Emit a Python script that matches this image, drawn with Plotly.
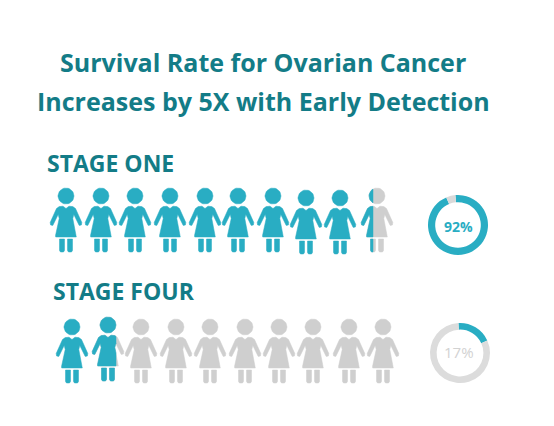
import numpy as np
import plotly.graph_objects as go

W, H = 554, 426
TEAL = "#29adc3"
GREY = "#cfcfcf"
DARK = "#137c87"

title_lines = ["Survival Rate for Ovarian Cancer", "Increases by 5X with Early Detection"]
stage_labels = ["STAGE ONE", "STAGE FOUR"]
pct_labels = ["92%", "17%"]

# people: all teal, all grey, and the two that are only partly teal
teal_x = [66, 101, 135, 170, 205, 238, 273, 306, 340, 72]
teal_y = [196, 196, 196, 196, 196, 196, 196, 198, 198, 327]
grey_x = [141, 176, 210, 245, 279, 313, 349, 383]
grey_y = [327, 327, 327, 327, 327, 327, 327, 327]
part_x = [377, 108]
part_y = [196, 325]
part_split = [373, 116]

# ring arcs as drawn, percent of the circle
one_arc = [95, 5]
four_arc = [19, 81]


def person(cx, cy):
    t = np.linspace(0, 2 * np.pi, 40)
    head = np.c_[8 * np.cos(t), 8 * np.sin(t)]
    right = [(0, 12.5), (3, 10.2), (6.8, 10.6), (9.5, 12.5), (15.8, 26.5), (15.4, 29), (13.2, 29.4),
             (7.8, 18.5), (6.8, 22.5), (10.5, 39.5), (10.3, 41)]
    body = np.array(right + [(-x, y) for x, y in reversed(right[1:])])
    leg_l = np.array([(-6.5, 43), (-1.5, 43), (-1.5, 54.5), (-2.5, 56), (-5.5, 56), (-6.5, 54.5)])
    leg_r = leg_l * [-1, 1]
    return [p + [cx, cy] for p in (head, body, leg_l, leg_r)]


def clip_left(poly, split):
    # keep the part of a polygon left of x = split
    out = []
    for a, b in zip(poly, np.roll(poly, -1, axis=0)):
        if a[0] <= split:
            out.append(a)
        if (a[0] - split) * (b[0] - split) < 0:
            k = (split - a[0]) / (b[0] - a[0])
            out.append(a + k * (b - a))
    return np.array(out) if out else None


def people_trace(polys, color):
    xs, ys = [], []
    for p in polys:
        xs += list(p[:, 0]) + [p[0, 0], None]
        ys += list(p[:, 1]) + [p[0, 1], None]
    return go.Scatter(x=xs, y=ys, mode="lines", fill="toself", fillcolor=color,
                      line=dict(color=color, width=0.5), hoverinfo="skip", showlegend=False)


grey_polys = []
for x, y in zip(part_x + grey_x, part_y + grey_y):
    grey_polys += person(x, y)

teal_polys = []
for x, y in zip(teal_x, teal_y):
    teal_polys += person(x, y)
for x, y, s in zip(part_x, part_y, part_split):
    for p in person(x, y):
        c = clip_left(p, s)
        if c is not None:
            teal_polys.append(c)

fig = go.Figure()
fig.add_trace(people_trace(grey_polys, GREY))
fig.add_trace(people_trace(teal_polys, TEAL))


def ring(values, colors, cx, cy, r, rotation, hole):
    return go.Pie(values=values, sort=False, direction="clockwise", rotation=rotation, hole=hole,
                  marker=dict(colors=colors, line=dict(width=0)), textinfo="none", hoverinfo="skip",
                  showlegend=False,
                  domain=dict(x=[(cx - r) / W, (cx + r) / W], y=[1 - (cy + r) / H, 1 - (cy - r) / H]))


fig.add_trace(ring(one_arc, [TEAL, "#d9d9d9"], 458, 225, 30, -5, 0.76))
fig.add_trace(ring(four_arc, [TEAL, "#dcdcdc"], 460, 353, 30, -3, 0.78))

notes = [
    dict(x=263, y=62, text="<b>" + title_lines[0] + "</b>", font=dict(size=25, color=DARK)),
    dict(x=263, y=101, text="<b>" + title_lines[1] + "</b>", font=dict(size=25, color=DARK)),
    dict(x=45, y=163, text="<b>" + stage_labels[0] + "</b>", xanchor="left", font=dict(size=23, color=DARK)),
    dict(x=51, y=291, text="<b>" + stage_labels[1] + "</b>", xanchor="left", font=dict(size=23, color=DARK)),
    dict(x=458, y=226, text="<b>" + pct_labels[0] + "</b>", font=dict(size=14, color=TEAL)),
    dict(x=459, y=352, text=pct_labels[1], font=dict(size=15, color="#d2d2d2")),
]
for n in notes:
    n.setdefault("xanchor", "center")
    fig.add_annotation(xref="x", yref="y", showarrow=False, yanchor="middle",
                       **{**n, "font": dict(family="Open Sans", **n["font"])})

fig.update_layout(width=W, height=H, margin=dict(l=0, r=0, t=0, b=0),
                  paper_bgcolor="white", plot_bgcolor="white",
                  xaxis=dict(range=[0, W], visible=False, fixedrange=True),
                  yaxis=dict(range=[H, 0], visible=False, fixedrange=True))
fig.write_html("out.html", include_plotlyjs=True, config=dict(displayModeBar=False),
               post_script="document.body.style.margin='0';")
